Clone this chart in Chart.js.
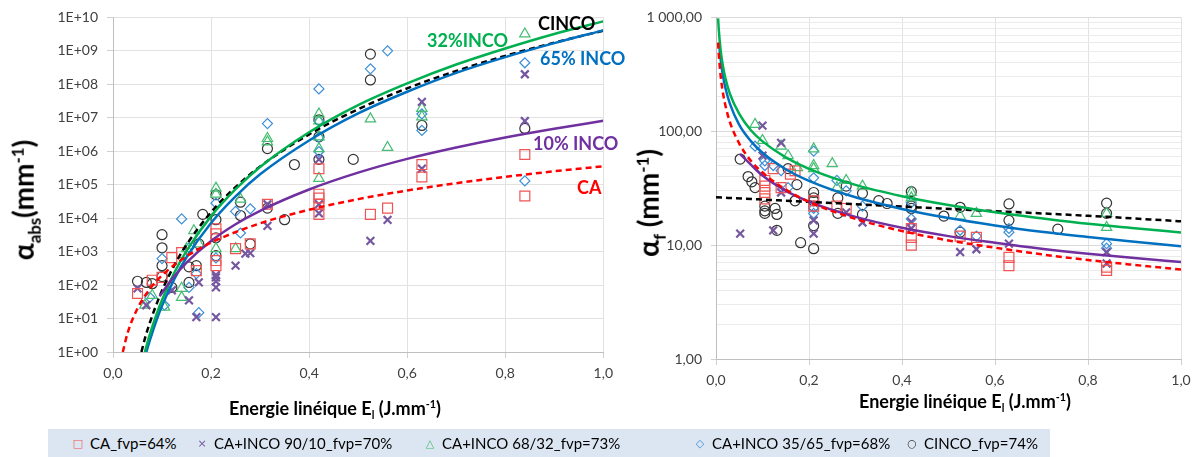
<!DOCTYPE html>
<html>
<head>
<meta charset="utf-8">
<script src="https://cdn.jsdelivr.net/npm/chart.js@4"></script>
<style>
    body { margin: 0; width: 1198px; height: 457px; overflow: hidden; position: relative; background: #fff; font-family: Lato, "Open Sans", sans-serif; }
    canvas { position: absolute; top: 0; }
    .ytitle { position: absolute; font-weight: bold; font-size: 28px; color: #000; white-space: nowrap; transform: translate(-50%, -50%) rotate(-90deg); }
    .xtitle { position: absolute; font-weight: bold; font-size: 18px; color: #000; white-space: nowrap; transform: translate(-50%, -50%); }
    .ytitle sub, .ytitle sup, .xtitle sub, .xtitle sup { font-size: 60%; }
    .note { position: absolute; font-weight: bold; font-size: 18px; white-space: nowrap; transform: translateY(-50%); }
    #legend { position: absolute; left: 48px; top: 429px; width: 1002px; height: 30px; background: #dce6f2; }
    .item { position: absolute; top: 14px; transform: translateY(-50%); font-size: 15px; color: #000; white-space: nowrap; }
    .mk { position: absolute; top: 14px; transform: translate(-50%, -50%); font-family: "DejaVu Sans", sans-serif; font-size: 11px; }
</style>
</head>
<body>
<canvas id="absChart" width="620" height="400" style="left:0"></canvas>
<canvas id="fChart" width="568" height="400" style="left:630px"></canvas>

<div class="ytitle" style="left:25px; top:200px;">α<sub>abs</sub>(mm<sup>-1</sup>)</div>
<div class="ytitle" style="left:650px; top:203px;">α<sub>f</sub> (mm<sup>-1</sup>)</div>
<div class="xtitle" style="left:335px; top:409px;">Energie linéique E<sub>l</sub> (J.mm<sup>-1</sup>)</div>
<div class="xtitle" style="left:965px; top:402px;">Energie linéique E<sub>l</sub> (J.mm<sup>-1</sup>)</div>

<div class="note" style="left:538px; top:23px; color:#000;">CINCO</div>
<div class="note" style="left:427px; top:40px; color:#00b050;">32%INCO</div>
<div class="note" style="left:540px; top:58px; color:#0070c0;">65% INCO</div>
<div class="note" style="left:533px; top:143px; color:#7030a0;">10% INCO</div>
<div class="note" style="left:577px; top:187px; color:#ff0000;">CA</div>

<div id="legend"></div>

<script>
// x axis
const xTicks = [0, 0.2, 0.4, 0.6, 0.8, 1.0];
const xTickLabels = ['0,0', '0,2', '0,4', '0,6', '0,8', '1,0'];

// left y axis (alpha abs)
const absTicks = [1, 1e1, 1e2, 1e3, 1e4, 1e5, 1e6, 1e7, 1e8, 1e9, 1e10];
const absTickLabels = ['1E+00', '1E+01', '1E+02', '1E+03', '1E+04', '1E+05', '1E+06', '1E+07', '1E+08', '1E+09', '1E+10'];

// right y axis (alpha f)
const fTicks = [1, 10, 100, 1000];
const fTickLabels = ['1,00', '10,00', '100,00', '1 000,00'];
const fMinorTicks = [2, 3, 4, 5, 6, 7, 8, 9, 20, 30, 40, 50, 60, 70, 80, 90, 200, 300, 400, 500, 600, 700, 800, 900];

const seriesNames = ['CA_fvp=64%', 'CA+INCO 90/10_fvp=70%', 'CA+INCO 68/32_fvp=73%', 'CA+INCO 35/65_fvp=68%', 'CINCO_fvp=74%'];

// measured points, alpha abs  [E, value]
const caAbs = [[0.05, 56], [0.08, 140], [0.1, 170], [0.12, 660], [0.14, 930], [0.17, 270], [0.21, 380], [0.21, 540], [0.21, 3400], [0.21, 4800], [0.25, 1230], [0.28, 1700], [0.315, 26000], [0.42, 13000], [0.42, 26000], [0.42, 40000], [0.42, 52000], [0.42, 300000], [0.525, 13000], [0.56, 20000], [0.63, 400000], [0.63, 170000], [0.84, 800000], [0.84, 46000]];
const inco10Abs = [[0.05, 80], [0.068, 25], [0.12, 70], [0.155, 35], [0.17, 11], [0.175, 120], [0.21, 11], [0.21, 85], [0.21, 130], [0.21, 170], [0.21, 200], [0.25, 380], [0.27, 870], [0.28, 900], [0.315, 5900], [0.315, 26000], [0.42, 14000], [0.42, 26000], [0.42, 570000], [0.525, 2100], [0.56, 8900], [0.63, 3e7], [0.63, 3e5], [0.84, 2e8], [0.84, 8e6]];
const inco32Abs = [[0.065, 25], [0.08, 49], [0.105, 22], [0.14, 43], [0.14, 80], [0.15, 1230], [0.165, 4200], [0.175, 1700], [0.21, 1230], [0.21, 52000], [0.21, 79000], [0.25, 1230], [0.26, 37000], [0.315, 2.4e6], [0.315, 1.9e6], [0.42, 1.3e7], [0.42, 8e6], [0.42, 2.7e6], [0.42, 1.2e6], [0.42, 155000], [0.525, 9.3e6], [0.56, 1.3e6], [0.63, 1.9e7], [0.63, 1.07e7], [0.84, 3.2e9]];
const inco65Abs = [[0.075, 43], [0.105, 25], [0.1, 620], [0.14, 9500], [0.155, 85], [0.155, 1300], [0.175, 15], [0.17, 220], [0.21, 650], [0.21, 28000], [0.25, 16000], [0.26, 3600], [0.28, 19000], [0.315, 6.7e6], [0.42, 7.3e7], [0.42, 8e6], [0.42, 2.6e6], [0.42, 9.8e5], [0.525, 2.9e8], [0.56, 1e9], [0.63, 1.3e7], [0.63, 4.2e6], [0.84, 4.4e8], [0.84, 1.3e5]];
const cincoAbs = [[0.05, 130], [0.068, 120], [0.08, 110], [0.1, 3200], [0.1, 1300], [0.1, 380], [0.1, 180], [0.12, 85], [0.155, 120], [0.155, 350], [0.17, 380], [0.175, 1700], [0.183, 13000], [0.21, 760], [0.21, 2600], [0.21, 9000], [0.21, 50000], [0.26, 30000], [0.26, 12000], [0.28, 1700], [0.315, 1.2e6], [0.315, 20000], [0.35, 9000], [0.37, 400000], [0.42, 8.7e6], [0.42, 2.7e6], [0.42, 5.7e5], [0.49, 5.7e5], [0.525, 8e8], [0.525, 1.35e8], [0.63, 5.9e6], [0.84, 4.8e6]];

// trend curves, alpha abs
const caAbsFit = [[0.02, 1], [0.03, 3.8], [0.05, 20], [0.075, 76], [0.1, 195], [0.15, 720], [0.2, 1860], [0.3, 7000], [0.4, 17800], [0.5, 37000], [0.6, 67000], [0.7, 111000], [0.8, 171000], [0.9, 252000], [1.0, 355000]];
const inco10AbsFit = [[0.095, 46], [0.12, 150], [0.15, 470], [0.2, 2080], [0.25, 6600], [0.3, 16600], [0.4, 72000], [0.5, 229000], [0.6, 590000], [0.7, 1.29e6], [0.8, 2.57e6], [0.9, 4.7e6], [1.0, 8.1e6]];
const inco32AbsFit = [[0.065, 1], [0.075, 3.3], [0.09, 15], [0.1, 36], [0.125, 234], [0.15, 1050], [0.2, 11500], [0.25, 74000], [0.3, 340000], [0.4, 3.7e6], [0.5, 2.4e7], [0.6, 1.07e8], [0.7, 3.9e8], [0.8, 1.18e9], [0.9, 3.2e9], [1.0, 7.6e9]];
const inco65AbsFit = [[0.068, 1], [0.075, 2.2], [0.09, 10], [0.1, 24], [0.125, 150], [0.15, 680], [0.2, 7200], [0.25, 45000], [0.3, 204000], [0.4, 2.1e6], [0.5, 1.35e7], [0.6, 6.0e7], [0.7, 2.2e8], [0.8, 6.5e8], [0.9, 1.7e9], [1.0, 4.1e9]];
const cincoAbsFit = [[0.058, 1], [0.065, 2.5], [0.075, 7.4], [0.09, 30], [0.1, 69], [0.125, 390], [0.15, 1600], [0.2, 15000], [0.25, 85000], [0.3, 350000], [0.4, 3.2e6], [0.5, 1.8e7], [0.6, 7.6e7], [0.7, 2.5e8], [0.8, 7.1e8], [0.9, 1.76e9], [1.0, 4.0e9]];

// measured points, alpha f
const caF = [[0.105, 37], [0.105, 33], [0.105, 29], [0.105, 25.5], [0.123, 47], [0.14, 32], [0.16, 42], [0.17, 45], [0.21, 24.5], [0.21, 22], [0.26, 22], [0.28, 21], [0.42, 14], [0.42, 11.7], [0.42, 10], [0.525, 12], [0.56, 11.7], [0.63, 7.8], [0.63, 6.6], [0.84, 6.4], [0.84, 6.0]];
const inco10F = [[0.052, 12.6], [0.1, 112], [0.1, 61], [0.14, 79], [0.14, 29], [0.123, 13.5], [0.21, 16.5], [0.21, 12.6], [0.28, 19.4], [0.315, 15.8], [0.42, 14], [0.42, 16], [0.525, 8.7], [0.56, 9.2], [0.63, 10.3], [0.84, 8.7], [0.84, 6.9]];
const inco32F = [[0.084, 115], [0.1, 83], [0.14, 74], [0.155, 61], [0.175, 48], [0.21, 50], [0.21, 47], [0.21, 70], [0.25, 52], [0.28, 37], [0.26, 32], [0.315, 33], [0.42, 26], [0.42, 29], [0.525, 18], [0.56, 19], [0.84, 19], [0.84, 14.3]];
const inco65F = [[0.084, 74], [0.105, 55], [0.105, 50], [0.123, 50], [0.14, 45], [0.155, 32], [0.21, 67], [0.21, 39], [0.21, 21], [0.21, 19], [0.26, 37], [0.28, 30], [0.315, 22], [0.42, 23.6], [0.42, 17], [0.525, 13.5], [0.56, 12], [0.63, 13], [0.63, 14], [0.84, 10.3], [0.84, 9.4]];
const cincoF = [[0.052, 57], [0.069, 40], [0.077, 36], [0.084, 32], [0.105, 22], [0.105, 20], [0.105, 19], [0.127, 21], [0.131, 18.6], [0.131, 13.5], [0.155, 47], [0.174, 34], [0.17, 24.5], [0.182, 10.5], [0.21, 29], [0.21, 26], [0.21, 24.5], [0.21, 22], [0.21, 14.8], [0.21, 9.3], [0.262, 26], [0.262, 19], [0.28, 33], [0.315, 28.5], [0.315, 18.6], [0.35, 24.6], [0.368, 23.2], [0.42, 29.5], [0.42, 22], [0.42, 21], [0.49, 18], [0.525, 21.5], [0.525, 13], [0.63, 23], [0.63, 16.5], [0.735, 13.8], [0.84, 23.4], [0.84, 19]];

// trend curves, alpha f
const caFFit = [[0.0045, 600], [0.006, 474], [0.01, 307], [0.015, 217], [0.02, 170], [0.03, 120], [0.05, 78], [0.075, 55], [0.1, 43.4], [0.15, 30.7], [0.2, 24.0], [0.3, 17.0], [0.4, 13.3], [0.5, 11.0], [0.6, 9.5], [0.7, 8.3], [0.8, 7.4], [0.9, 6.7], [1.0, 6.1]];
const inco10FFit = [[0.052, 63], [0.075, 51], [0.1, 40.8], [0.15, 30], [0.2, 24.1], [0.3, 17.7], [0.4, 14.2], [0.5, 12.0], [0.6, 10.5], [0.7, 9.3], [0.8, 8.4], [0.9, 7.7], [1.0, 7.1]];
const inco32FFit = [[0.0045, 980], [0.006, 780], [0.01, 514], [0.015, 372], [0.02, 295], [0.03, 213], [0.05, 142], [0.075, 102], [0.1, 81.5], [0.15, 59], [0.2, 46.8], [0.3, 33.8], [0.4, 26.9], [0.5, 22.5], [0.6, 19.4], [0.7, 17.2], [0.8, 15.4], [0.9, 14.1], [1.0, 12.9]];
const inco65FFit = [[0.0065, 600], [0.01, 428], [0.015, 307], [0.02, 242], [0.03, 174], [0.05, 114], [0.075, 82], [0.1, 64.7], [0.15, 46.4], [0.2, 36.7], [0.3, 26.3], [0.4, 20.8], [0.5, 17.3], [0.6, 14.9], [0.7, 13.1], [0.8, 11.8], [0.9, 10.7], [1.0, 9.8]];
const cincoFFit = [[0, 26.3], [0.2, 24.0], [0.4, 21.8], [0.6, 19.9], [0.8, 18.1], [1.0, 16.2]];

const markerStyles = [
    { pointStyle: 'rect', color: '#f05454', radius: 7, width: 1.2 },
    { pointStyle: 'crossRot', color: '#7658a0', radius: 5.5, width: 2.2 },
    { pointStyle: 'triangle', color: '#45bd72', radius: 6, width: 1.2 },
    { pointStyle: 'rectRot', color: '#3b8fd8', radius: 5, width: 1.2 },
    { pointStyle: 'circle', color: '#333333', radius: 5, width: 1.2 }
];
const curveColors = ['#ff0000', '#7030a0', '#00b050', '#0070c0', '#000000'];
const curveDashed = [true, false, false, false, true];
const legendMarks = ['□', '×', '△', '◇', '○'];

const toXY = arr => arr.map(([x, y]) => ({ x, y }));
const tickFont = { family: 'Lato', size: 14 };

function buildDatasets(points, fits) {
    const lines = fits.map((fit, i) => ({
        data: toXY(fit),
        showLine: true,
        pointRadius: 0,
        borderColor: curveColors[i],
        borderWidth: 2.5,
        borderDash: curveDashed[i] ? [6, 4] : [],
        cubicInterpolationMode: 'monotone',
        fill: false
    }));
    const marks = points.map((pts, i) => ({
        data: toXY(pts),
        showLine: false,
        pointStyle: markerStyles[i].pointStyle,
        pointRadius: markerStyles[i].radius,
        pointBorderWidth: markerStyles[i].width,
        pointBorderColor: markerStyles[i].color,
        pointBackgroundColor: 'rgba(0,0,0,0)'
    }));
    // first datasets are drawn on top
    return lines.concat(marks);
}

function xScale(height) {
    return {
        type: 'linear',
        min: 0,
        max: 1,
        afterBuildTicks: s => { s.ticks = xTicks.map(v => ({ value: v })); },
        afterFit: s => { s.height = height; },
        ticks: { font: tickFont, color: '#404040', padding: 7, maxRotation: 0, autoSkip: false,
                 callback: (v, i) => xTickLabels[i] },
        grid: { color: '#e2e2e2', tickLength: 6, tickColor: '#d0d0d0' },
        border: { color: '#bfbfbf' }
    };
}

const baseOptions = {
    responsive: false,
    animation: false,
    plugins: { legend: { display: false }, tooltip: { enabled: false } }
};

new Chart(document.getElementById('absChart'), {
    type: 'scatter',
    data: { datasets: buildDatasets([caAbs, inco10Abs, inco32Abs, inco65Abs, cincoAbs],
                                     [caAbsFit, inco10AbsFit, inco32AbsFit, inco65AbsFit, cincoAbsFit]) },
    options: {
        ...baseOptions,
        layout: { padding: { top: 15, right: 14, left: 0, bottom: 0 } },
        scales: {
            x: xScale(48),
            y: {
                type: 'logarithmic',
                min: 1,
                max: 1e10,
                afterBuildTicks: s => { s.ticks = absTicks.map(v => ({ value: v })); },
                afterFit: s => { s.width = 113; },
                ticks: { font: tickFont, color: '#404040', padding: 9, autoSkip: false,
                         callback: (v, i) => absTickLabels[i] },
                grid: { color: '#e2e2e2', tickLength: 6, tickColor: '#d0d0d0' },
                border: { color: '#bfbfbf' }
            }
        }
    }
});

const fAllTicks = fTicks.map(v => ({ value: v, major: true }))
    .concat(fMinorTicks.map(v => ({ value: v, major: false })))
    .sort((a, b) => a.value - b.value);

new Chart(document.getElementById('fChart'), {
    type: 'scatter',
    data: { datasets: buildDatasets([caF, inco10F, inco32F, inco65F, cincoF],
                                     [caFFit, inco10FFit, inco32FFit, inco65FFit, cincoFFit]) },
    options: {
        ...baseOptions,
        layout: { padding: { top: 16, right: 17, left: 0, bottom: 0 } },
        scales: {
            x: xScale(41),
            y: {
                type: 'logarithmic',
                min: 1,
                max: 1000,
                afterBuildTicks: s => { s.ticks = fAllTicks.map(t => ({ value: t.value, major: t.major })); },
                afterFit: s => { s.width = 86; },
                ticks: { font: tickFont, color: '#404040', padding: 9, autoSkip: false,
                         callback: v => {
                             const k = fTicks.indexOf(v);
                             return k >= 0 ? fTickLabels[k] : '';
                         } },
                grid: {
                    color: ctx => (ctx.tick && ctx.tick.major) ? '#d9d9d9' : '#ebebeb',
                    tickLength: 5,
                    tickColor: ctx => (ctx.tick && ctx.tick.major) ? '#d0d0d0' : 'rgba(0,0,0,0)'
                },
                border: { color: '#bfbfbf' }
            }
        }
    }
});

// legend strip under both panels
const legendX = [78, 202, 430, 700, 912];
const legendBox = document.getElementById('legend');
seriesNames.forEach((name, i) => {
    const mk = document.createElement('span');
    mk.className = 'mk';
    mk.style.left = (legendX[i] - 48) + 'px';
    mk.style.color = markerStyles[i].color;
    mk.textContent = legendMarks[i];
    legendBox.appendChild(mk);

    const label = document.createElement('span');
    label.className = 'item';
    label.style.left = (legendX[i] - 48 + 12) + 'px';
    label.textContent = name;
    legendBox.appendChild(label);
});
</script>
</body>
</html>
